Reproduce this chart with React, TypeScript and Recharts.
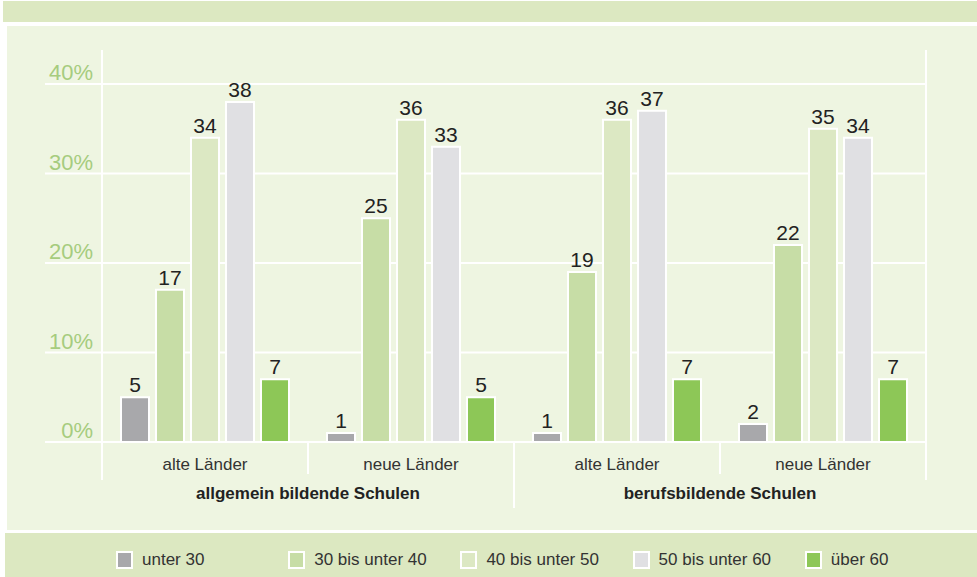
import React from 'react';
import { BarChart, Bar, XAxis, YAxis, CartesianGrid, LabelList, Legend } from 'recharts';

const categories = ['alte Länder', 'neue Länder', 'alte Länder', 'neue Länder'];
const schools = ['allgemein bildende Schulen', 'allgemein bildende Schulen', 'berufsbildende Schulen', 'berufsbildende Schulen'];

const unter30 = [5, 1, 1, 2];
const bis40 = [17, 25, 19, 22];
const bis50 = [34, 36, 36, 35];
const bis60 = [38, 33, 37, 34];
const ueber60 = [7, 5, 7, 7];

const yTicks = [0, 10, 20, 30, 40];

const seriesDefs = [
  { key: 'u30', name: 'unter 30', color: '#a8a8ab' },
  { key: 'b40', name: '30 bis unter 40', color: '#c7dda6' },
  { key: 'b50', name: '40 bis unter 50', color: '#dce8c3' },
  { key: 'b60', name: '50 bis unter 60', color: '#e0e0e3' },
  { key: 'o60', name: 'über 60', color: '#8dc757' },
];

const data = categories.map((land, i) => ({
  land,
  school: schools[i],
  u30: unter30[i],
  b40: bis40[i],
  b50: bis50[i],
  b60: bis60[i],
  o60: ueber60[i],
}));

const W = 977;
const H = 577;
const M = { top: 84, right: 51, left: 45, bottom: 0 };
const Y_W = 57;
const X_H = 89;
const LEG_H = 46;
const PLOT_LEFT = M.left + Y_W;
const PLOT_BOTTOM = H - LEG_H - X_H;
const BAND = (W - M.right - PLOT_LEFT) / categories.length;
const FONT = '"Liberation Sans", Arial, Helvetica, sans-serif';

const YTick = ({ x, y, payload }: any) => (
  <g>
    <line x1={M.left} x2={PLOT_LEFT} y1={y} y2={y} stroke="#fff" strokeWidth={2} />
    <text x={x - 1} y={y - 4} textAnchor="end" fontSize={22} fill="#a6cc7e" fontFamily={FONT}>
      {payload.value}%
    </text>
  </g>
);

const XTick = ({ x, payload, index }: any) => {
  const left = x - BAND / 2;
  const right = x + BAND / 2;
  let top = PLOT_BOTTOM + 1;
  let bottom = PLOT_BOTTOM + 32;
  if (index === 0) {
    top = 50;
    bottom = 480;
  } else if (index === 2) {
    bottom = 508;
  }
  return (
    <g>
      <line x1={left} x2={left} y1={top} y2={bottom} stroke="#fff" strokeWidth={2} />
      {index === categories.length - 1 && (
        <line x1={right} x2={right} y1={50} y2={480} stroke="#fff" strokeWidth={2} />
      )}
      <text x={x} y={PLOT_BOTTOM + 28} textAnchor="middle" fontSize={17} fill="#333" fontFamily={FONT}>
        {payload.value}
      </text>
      {index % 2 === 0 && (
        <text x={right} y={PLOT_BOTTOM + 57} textAnchor="middle" fontSize={17} fontWeight="bold" fill="#222" fontFamily={FONT}>
          {schools[index]}
        </text>
      )}
    </g>
  );
};

const LegendContent = () => (
  <div style={{ display: 'flex', alignItems: 'center', height: LEG_H, paddingTop: 12, paddingLeft: 116, boxSizing: 'border-box', fontFamily: FONT }}>
    {seriesDefs.map((s) => (
      <div key={s.key} style={{ display: 'flex', alignItems: 'center', width: 176 }}>
        <span style={{ display: 'inline-block', width: 13, height: 14, background: s.color, border: '2px solid #fff' }} />
        <span style={{ marginLeft: 9, fontSize: 17, color: '#333' }}>{s.name}</span>
      </div>
    ))}
  </div>
);

export default function App() {
  return (
    <div style={{ position: 'absolute', top: 0, left: 0, width: W, height: H, background: '#fff', overflow: 'hidden' }}>
      <div style={{ position: 'absolute', top: 1, left: 3, right: 0, height: 21, background: '#dce8c1' }} />
      <div style={{ position: 'absolute', top: 26, left: 7, right: 0, height: 504, background: '#eef5e1' }} />
      <div style={{ position: 'absolute', top: 533, left: 5, right: 0, bottom: 0, background: '#dce8c1' }} />
      <div style={{ position: 'absolute', top: 0, left: 0 }}>
        <BarChart width={W} height={H} data={data} margin={M} barSize={28} barGap={7}>
          <CartesianGrid vertical={false} stroke="#fff" strokeWidth={2} />
          <XAxis dataKey="land" height={X_H} axisLine={false} tickLine={false} tick={<XTick />} interval={0} />
          <YAxis width={Y_W} domain={[0, 40]} ticks={yTicks} axisLine={false} tickLine={false} tick={<YTick />} />
          <Legend verticalAlign="bottom" height={LEG_H} content={<LegendContent />} wrapperStyle={{ left: 0, width: W }} />
          {seriesDefs.map((s) => (
            <Bar key={s.key} dataKey={s.key} name={s.name} fill={s.color} stroke="#fff" strokeWidth={2} isAnimationActive={false}>
              <LabelList dataKey={s.key} position="top" offset={5} fontSize={21} fill="#222" fontFamily={FONT} />
            </Bar>
          ))}
        </BarChart>
      </div>
    </div>
  );
}
